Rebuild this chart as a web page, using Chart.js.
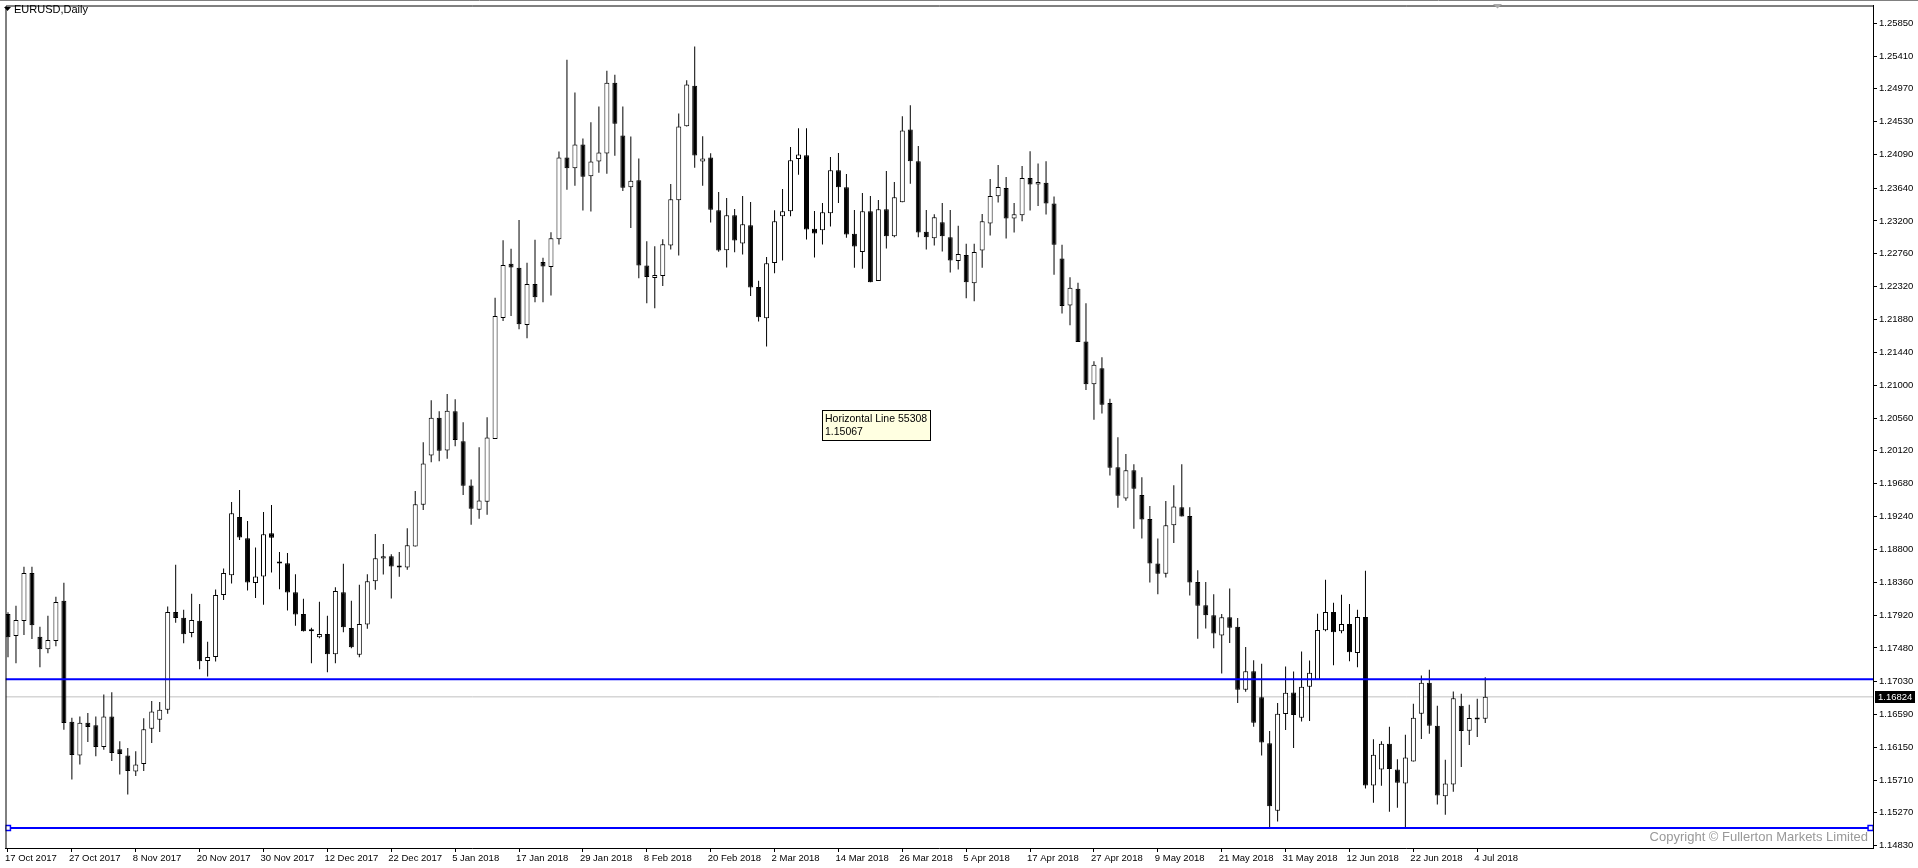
<!DOCTYPE html>
<html>
<head>
<meta charset="utf-8">
<title>EURUSD,Daily</title>
<script src="https://cdn.jsdelivr.net/npm/chart.js@4.4.1/dist/chart.umd.min.js"></script>
<style>
  html, body { margin: 0; padding: 0; background: #fff; }
  #wrap { width: 1918px; height: 868px; }
</style>
</head>
<body>
<div id="wrap"><canvas id="chart" width="1918" height="868"></canvas></div>
<script>
const symbolTitle = 'EURUSD,Daily';

// daily bars, 17 Oct 2017 .. 5 Jul 2018 (bar index = position on the x axis)
const openPrices = [
  1.17934, 1.17640, 1.17840, 1.18482, 1.17631, 1.17462, 1.17573, 1.18112, 1.16491, 1.16037,
  1.16478, 1.16442, 1.16153, 1.16562, 1.16121, 1.16037, 1.15823, 1.15926, 1.16398, 1.16518,
  1.16651, 1.17961, 1.17885, 1.17680, 1.17845, 1.17306, 1.17359, 1.18188, 1.18455, 1.19234,
  1.18949, 1.18348, 1.18437, 1.19015, 1.18628, 1.18615, 1.18227, 1.17933, 1.17706, 1.17622,
  1.17666, 1.17394, 1.18227, 1.17746, 1.17389, 1.17795, 1.18374, 1.18677, 1.18708, 1.18575,
  1.18557, 1.18837, 1.19398, 1.20057, 1.20565, 1.20124, 1.20650, 1.20249, 1.19657, 1.19332,
  1.19438, 1.20280, 1.21901, 1.22627, 1.22573, 1.21807, 1.22355, 1.22649, 1.22582, 1.22956,
  1.24051, 1.23905, 1.24225, 1.23798, 1.23998, 1.24105, 1.25053, 1.24345, 1.23651, 1.23744,
  1.22604, 1.22435, 1.22462, 1.22871, 1.23477, 1.24470, 1.25013, 1.23998, 1.24051, 1.23343,
  1.22809, 1.23277, 1.22898, 1.23143, 1.22315, 1.21896, 1.22636, 1.23264, 1.23331, 1.24030,
  1.24079, 1.23095, 1.23077, 1.23304, 1.23878, 1.23651, 1.23028, 1.22783, 1.23331, 1.22395,
  1.23357, 1.22997, 1.23451, 1.24426, 1.23999, 1.23055, 1.22970, 1.23184, 1.22983, 1.22663,
  1.22743, 1.22364, 1.22805, 1.23166, 1.23531, 1.23642, 1.23233, 1.23277, 1.23776, 1.23688,
  1.23711, 1.23435, 1.22698, 1.22068, 1.22292, 1.21585, 1.21014, 1.21226, 1.20760, 1.19900,
  1.19482, 1.19859, 1.19529, 1.19206, 1.18611, 1.18475, 1.19123, 1.19364, 1.19247, 1.18363,
  1.18051, 1.17916, 1.17645, 1.17892, 1.17762, 1.16920, 1.17167, 1.16820, 1.16202, 1.15298,
  1.16593, 1.16883, 1.16544, 1.16959, 1.17052, 1.17716, 1.17960, 1.17702, 1.17800, 1.17413,
  1.17894, 1.15636, 1.15850, 1.16197, 1.15850, 1.15663, 1.15957, 1.16598, 1.17012, 1.16438,
  1.15493, 1.15649, 1.16705, 1.16371, 1.16531, 1.16531
];

const highPrices = [
  1.17956, 1.18045, 1.18566, 1.18566, 1.17765, 1.17912, 1.18165, 1.18352, 1.16544, 1.16562,
  1.16607, 1.16562, 1.16856, 1.16887, 1.16228, 1.16139, 1.16095, 1.16536, 1.16767, 1.16754,
  1.18036, 1.18593, 1.17992, 1.18205, 1.18067, 1.17564, 1.18263, 1.18544, 1.19434, 1.19595,
  1.19181, 1.18824, 1.19300, 1.19394, 1.18766, 1.18752, 1.18468, 1.18138, 1.17751, 1.18098,
  1.17911, 1.18294, 1.18606, 1.18111, 1.18325, 1.18468, 1.19006, 1.18873, 1.18735, 1.18766,
  1.19082, 1.19581, 1.20235, 1.20797, 1.20650, 1.20881, 1.20810, 1.20503, 1.19737, 1.20169,
  1.20569, 1.22173, 1.22943, 1.22827, 1.23214, 1.22640, 1.22947, 1.22707, 1.23050, 1.24132,
  1.25361, 1.24920, 1.24305, 1.24523, 1.24733, 1.25214, 1.25160, 1.24733, 1.24332, 1.24038,
  1.22929, 1.22862, 1.22956, 1.23695, 1.24639, 1.25085, 1.25539, 1.24336, 1.24109, 1.23588,
  1.23508, 1.23361, 1.23535, 1.23455, 1.22399, 1.22716, 1.23344, 1.23629, 1.24190, 1.24444,
  1.24444, 1.23335, 1.23442, 1.24056, 1.24110, 1.23829, 1.23348, 1.23576, 1.23535, 1.23482,
  1.23869, 1.23722, 1.24604, 1.24751, 1.24203, 1.23348, 1.23291, 1.23442, 1.23348, 1.23135,
  1.22894, 1.22894, 1.23295, 1.23763, 1.23950, 1.23789, 1.23442, 1.23936, 1.24135, 1.23970,
  1.23999, 1.23529, 1.22881, 1.22445, 1.22374, 1.22097, 1.21320, 1.21373, 1.20819, 1.20301,
  1.20077, 1.19942, 1.19765, 1.19382, 1.18946, 1.19447, 1.19659, 1.19942, 1.19364, 1.18522,
  1.18363, 1.18198, 1.17933, 1.18275, 1.17880, 1.17491, 1.17315, 1.17268, 1.16366, 1.16743,
  1.17230, 1.17163, 1.17431, 1.17310, 1.17938, 1.18392, 1.18085, 1.18192, 1.18067, 1.17992,
  1.18513, 1.16255, 1.16228, 1.16424, 1.15988, 1.16317, 1.16731, 1.17110, 1.17186, 1.16705,
  1.15983, 1.16896, 1.16865, 1.16718, 1.16798, 1.17088
];

const lowPrices = [
  1.17355, 1.17275, 1.17653, 1.17600, 1.17221, 1.17408, 1.17502, 1.16384, 1.15716, 1.15917,
  1.16219, 1.16028, 1.16117, 1.15966, 1.15783, 1.15516, 1.15765, 1.15832, 1.16206, 1.16353,
  1.16598, 1.17818, 1.17542, 1.17622, 1.17195, 1.17097, 1.17297, 1.18121, 1.18343, 1.18927,
  1.18250, 1.18148, 1.18058, 1.18490, 1.18267, 1.17982, 1.17778, 1.17700, 1.17274, 1.17608,
  1.17154, 1.17274, 1.17688, 1.17474, 1.17354, 1.17737, 1.18258, 1.18463, 1.18143, 1.18432,
  1.18526, 1.18837, 1.19327, 1.19968, 1.19982, 1.20013, 1.20182, 1.19528, 1.19131, 1.19211,
  1.19265, 1.20280, 1.21861, 1.21928, 1.21749, 1.21629, 1.22110, 1.22110, 1.22203, 1.22885,
  1.23620, 1.23673, 1.23339, 1.23326, 1.23847, 1.23833, 1.24074, 1.23602, 1.23107, 1.22431,
  1.22097, 1.22030, 1.22328, 1.22818, 1.22738, 1.24466, 1.23913, 1.23673, 1.23179, 1.22787,
  1.22578, 1.22782, 1.22751, 1.22195, 1.21852, 1.21518, 1.22498, 1.22672, 1.23264, 1.23820,
  1.22952, 1.22712, 1.22885, 1.23126, 1.23442, 1.22974, 1.22574, 1.22560, 1.22378, 1.22395,
  1.22832, 1.22983, 1.23451, 1.23700, 1.22983, 1.22819, 1.22872, 1.22792, 1.22511, 1.22551,
  1.22164, 1.22124, 1.22574, 1.23006, 1.23446, 1.22965, 1.23046, 1.23197, 1.23340, 1.23399,
  1.23287, 1.22480, 1.21962, 1.21803, 1.21579, 1.20937, 1.20537, 1.20619, 1.19789, 1.19359,
  1.19453, 1.19076, 1.18946, 1.18357, 1.18198, 1.18422, 1.18887, 1.19241, 1.18181, 1.17603,
  1.17739, 1.17474, 1.17138, 1.17544, 1.16743, 1.16891, 1.16425, 1.16037, 1.15065, 1.15153,
  1.16380, 1.16139, 1.16495, 1.16500, 1.17052, 1.17702, 1.17248, 1.17675, 1.17301, 1.17221,
  1.15596, 1.15404, 1.15632, 1.15284, 1.15338, 1.15070, 1.15957, 1.16259, 1.16331, 1.15382,
  1.15244, 1.15551, 1.15885, 1.16179, 1.16286, 1.16473
];

const closePrices = [
  1.17622, 1.17854, 1.18482, 1.17782, 1.17462, 1.17586, 1.18094, 1.16473, 1.16046, 1.16478,
  1.16420, 1.16153, 1.16562, 1.16073, 1.16059, 1.15832, 1.15917, 1.16389, 1.16629, 1.16651,
  1.17961, 1.17880, 1.17662, 1.17854, 1.17301, 1.17359, 1.18188, 1.18482, 1.19283, 1.18958,
  1.18357, 1.18437, 1.19002, 1.18957, 1.18610, 1.18223, 1.17929, 1.17702, 1.17702, 1.17666,
  1.17394, 1.18241, 1.17755, 1.17488, 1.17800, 1.18374, 1.18681, 1.18708, 1.18570, 1.18557,
  1.18855, 1.19403, 1.19950, 1.20565, 1.20120, 1.20659, 1.20267, 1.19652, 1.19345, 1.19456,
  1.20298, 1.21928, 1.22609, 1.22578, 1.21816, 1.22355, 1.22177, 1.22591, 1.22969, 1.24051,
  1.23905, 1.24225, 1.23793, 1.23998, 1.24118, 1.25053, 1.24501, 1.23646, 1.23740, 1.22604,
  1.22448, 1.22475, 1.22889, 1.23490, 1.24466, 1.25027, 1.24078, 1.24038, 1.23352, 1.22805,
  1.23277, 1.22938, 1.23156, 1.22310, 1.21910, 1.22635, 1.23197, 1.23331, 1.24012, 1.24092,
  1.23086, 1.23032, 1.23317, 1.23878, 1.23651, 1.23019, 1.22859, 1.23331, 1.22378, 1.23357,
  1.22997, 1.23518, 1.24413, 1.23999, 1.23046, 1.22983, 1.23250, 1.22997, 1.22672, 1.22756,
  1.22378, 1.22783, 1.23197, 1.23535, 1.23656, 1.23233, 1.23291, 1.23776, 1.23688, 1.23723,
  1.23435, 1.22881, 1.22062, 1.22304, 1.21579, 1.21014, 1.21273, 1.20737, 1.19895, 1.19518,
  1.19859, 1.19612, 1.19200, 1.18611, 1.18475, 1.19123, 1.19376, 1.19241, 1.18357, 1.18045,
  1.17916, 1.17674, 1.17892, 1.17751, 1.16920, 1.17167, 1.16478, 1.16214, 1.15359, 1.16598,
  1.16878, 1.16580, 1.16959, 1.17146, 1.17720, 1.17960, 1.17689, 1.17800, 1.17422, 1.17894,
  1.15636, 1.16050, 1.16197, 1.15859, 1.15672, 1.16010, 1.16544, 1.17012, 1.16438, 1.15502,
  1.15663, 1.16807, 1.16366, 1.16540, 1.16522, 1.16824
];

// time axis labels, one every 8 bars
const dateTickBars = [0, 8, 16, 24, 32, 40, 48, 56, 64, 72, 80, 88, 96, 104, 112, 120, 128, 136, 144, 152, 160, 168, 176, 184];
const dateTickLabels = [
  '17 Oct 2017', '27 Oct 2017', '8 Nov 2017', '20 Nov 2017', '30 Nov 2017', '12 Dec 2017',
  '22 Dec 2017', '5 Jan 2018', '17 Jan 2018', '29 Jan 2018', '8 Feb 2018', '20 Feb 2018',
  '2 Mar 2018', '14 Mar 2018', '26 Mar 2018', '5 Apr 2018', '17 Apr 2018', '27 Apr 2018',
  '9 May 2018', '21 May 2018', '31 May 2018', '12 Jun 2018', '22 Jun 2018', '4 Jul 2018'
];

const priceTicks = [
  1.25850, 1.25410, 1.24970, 1.24530, 1.24090, 1.23640, 1.23200, 1.22760, 1.22320,
  1.21880, 1.21440, 1.21000, 1.20560, 1.20120, 1.19680, 1.19240, 1.18800, 1.18360,
  1.17920, 1.17480, 1.17030, 1.16590, 1.16150, 1.15710, 1.15270, 1.14830
];

const upperLineLevel = 1.17061;
const lowerLineLevel = 1.15067;
const lowerLineName = 'Horizontal Line 55308';
const bidPrice = 1.16824;
const copyrightText = 'Copyright \u00a9 Fullerton Markets Limited';

// visible window
const xMin = -0.3125;
const xMax = 233.5625;
const yMin = 1.14799;
const yMax = 1.26087;
const handleInset = 0.3;

Chart.defaults.font.family = '"Liberation Sans", Arial, sans-serif';
Chart.defaults.font.size = 9.5;
Chart.defaults.color = '#000';

const wickData = lowPrices.map((low, i) => ({ x: i, y: [low, highPrices[i]] }));
const bodyData = openPrices.map((open, i) => ({ x: i, y: [open, closePrices[i]] }));
const isBear = i => closePrices[i] < openPrices[i];

const mtDecor = {
  id: 'mtDecor',
  afterDraw(chart) {
    const ctx = chart.ctx;
    const area = chart.chartArea;
    const yScale = chart.scales.y;
    ctx.save();

    // window frame
    ctx.strokeStyle = '#808080';
    ctx.lineWidth = 1;
    ctx.beginPath();
    ctx.moveTo(0, 0.5);
    ctx.lineTo(1918, 0.5);
    ctx.stroke();
    ctx.strokeStyle = '#000';
    ctx.beginPath();
    ctx.moveTo(area.left + 0.5, area.bottom);
    ctx.lineTo(area.left + 0.5, area.top + 0.5);
    ctx.lineTo(area.right, area.top + 0.5);
    ctx.stroke();

    // title
    ctx.fillStyle = '#000';
    ctx.beginPath();
    ctx.moveTo(4, 7);
    ctx.lineTo(11, 7);
    ctx.lineTo(7.5, 11);
    ctx.closePath();
    ctx.fill();
    ctx.font = '11px "Liberation Sans", Arial, sans-serif';
    ctx.textBaseline = 'middle';
    ctx.textAlign = 'left';
    ctx.fillText(symbolTitle, 14, 10);

    // chart shift marker
    ctx.fillStyle = '#a8a8a8';
    ctx.beginPath();
    ctx.moveTo(1493, 4);
    ctx.lineTo(1502, 4);
    ctx.lineTo(1497.5, 8.5);
    ctx.closePath();
    ctx.fill();

    // bid price box on the price scale
    const by = Math.round(yScale.getPixelForValue(bidPrice));
    ctx.font = '9.5px "Liberation Sans", Arial, sans-serif';
    ctx.fillStyle = '#000';
    ctx.fillRect(area.right + 2, by - 6, 40, 12);
    ctx.fillStyle = '#fff';
    ctx.fillText(bidPrice.toFixed(5), area.right + 5, by + 0.5);

    // object tooltip
    ctx.font = '10.5px "Liberation Sans", Arial, sans-serif';
    ctx.fillStyle = '#ffffe1';
    ctx.fillRect(822, 410, 109, 31);
    ctx.strokeStyle = '#000';
    ctx.strokeRect(822.5, 410.5, 108, 30);
    ctx.fillStyle = '#000';
    ctx.fillText(lowerLineName, 825, 419);
    ctx.fillText(lowerLineLevel.toFixed(5), 825, 432);

    // copyright
    ctx.fillStyle = '#999';
    ctx.font = '13px "Liberation Sans", Arial, sans-serif';
    ctx.textAlign = 'right';
    ctx.fillText(copyrightText, 1868, 837);
    ctx.restore();
  }
};

const ctxChart = document.getElementById('chart').getContext('2d');

const myCandleChart = new Chart(ctxChart, {
  type: 'bar',
  data: {
    datasets: [
      {
        type: 'line',
        label: 'Upper line',
        data: [{ x: xMin, y: upperLineLevel }, { x: xMax, y: upperLineLevel }],
        borderColor: '#0000ff',
        borderWidth: 2,
        pointRadius: 0,
        order: 0
      },
      {
        type: 'line',
        label: lowerLineName,
        data: [{ x: xMin, y: lowerLineLevel }, { x: xMax, y: lowerLineLevel }],
        borderColor: '#0000ff',
        borderWidth: 2,
        pointRadius: 0,
        order: 0
      },
      {
        type: 'scatter',
        label: 'handles',
        data: [{ x: xMin + handleInset, y: lowerLineLevel }, { x: xMax - handleInset, y: lowerLineLevel }],
        pointStyle: 'rect',
        pointRadius: 3.6,
        borderWidth: 1.5,
        borderColor: '#0000ff',
        backgroundColor: '#fff',
        order: -1
      },
      {
        type: 'bar',
        label: 'body',
        data: bodyData,
        grouped: false,
        barThickness: 5,
        minBarLength: 2,
        borderWidth: 1,
        borderColor: '#000',
        borderSkipped: false,
        inflateAmount: 0,
        backgroundColor: c => isBear(c.dataIndex) ? '#000' : '#fff',
        order: 1
      },
      {
        type: 'bar',
        label: 'wick',
        data: wickData,
        grouped: false,
        barThickness: 1,
        borderWidth: 0,
        inflateAmount: 0,
        backgroundColor: '#000',
        order: 2
      },
      {
        type: 'line',
        label: 'Bid',
        data: [{ x: xMin, y: bidPrice }, { x: xMax, y: bidPrice }],
        borderColor: '#c0c0c0',
        borderWidth: 1,
        pointRadius: 0,
        order: 3
      }
    ]
  },
  options: {
    responsive: false,
    devicePixelRatio: 1,
    animation: false,
    events: [],
    layout: { padding: { left: 2, top: 3, right: 0, bottom: 0 } },
    plugins: {
      legend: { display: false },
      tooltip: { enabled: false }
    },
    scales: {
      x: {
        type: 'linear',
        min: xMin,
        max: xMax,
        offset: false,
        afterBuildTicks: s => { s.ticks = dateTickBars.map(v => ({ value: v })); },
        afterFit: s => { s.height = 20; s.paddingLeft = 0; s.paddingRight = 0; },
        grid: { offset: false, drawOnChartArea: false, drawTicks: true, tickLength: 4, tickColor: '#000' },
        border: { display: true, color: '#000', width: 1 },
        ticks: {
          autoSkip: false,
          maxRotation: 0,
          align: 'start',
          labelOffset: -3,
          padding: 1,
          color: '#000',
          callback: (v, k) => dateTickLabels[k]
        }
      },
      y: {
        type: 'linear',
        position: 'right',
        min: yMin,
        max: yMax,
        beginAtZero: false,
        afterBuildTicks: s => { s.ticks = priceTicks.map(v => ({ value: v })); },
        afterFit: s => { s.width = 45; s.paddingTop = 0; s.paddingBottom = 0; },
        grid: { drawOnChartArea: false, drawTicks: true, tickLength: 4, tickColor: '#000' },
        border: { display: true, color: '#000', width: 1 },
        ticks: {
          autoSkip: false,
          padding: 2,
          color: '#000',
          callback: v => v.toFixed(5)
        }
      }
    }
  },
  plugins: [mtDecor]
});
</script>
</body>
</html>
